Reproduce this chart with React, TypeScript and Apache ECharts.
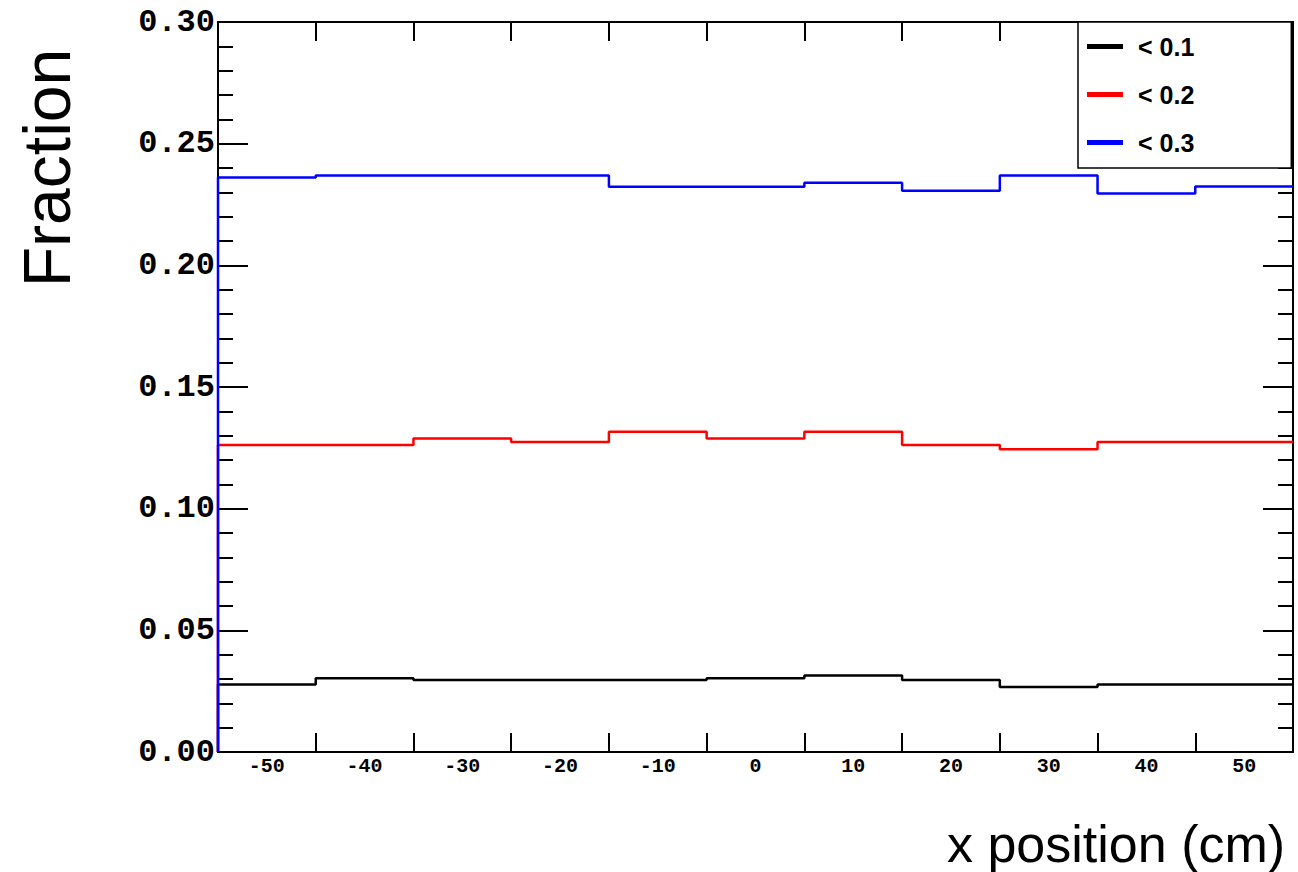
import React, { useEffect, useRef } from "react";
import * as echarts from "echarts";

const binCenters = [-50, -40, -30, -20, -10, 0, 10, 20, 30, 40, 50];
const binEdges = [-45, -35, -25, -15, -5, 5, 15, 25, 35, 45];
const binWidth = 10;
const xMin = -55;
const xMax = 55;
const yTicks = [0, 0.05, 0.1, 0.15, 0.2, 0.25, 0.3];

const seriesNames = ["< 0.1", "< 0.2", "< 0.3"];
const seriesColors = ["#000000", "#ff0000", "#0000ff"];
const fracLt01 = [0.0277, 0.0303, 0.0296, 0.0296, 0.0296, 0.0303, 0.0314, 0.0296, 0.0267, 0.0277, 0.0277];
const fracLt02 = [0.1262, 0.1262, 0.1288, 0.1274, 0.1316, 0.1288, 0.1316, 0.1262, 0.1244, 0.1274, 0.1274];
const fracLt03 = [0.2361, 0.2369, 0.2369, 0.2369, 0.2323, 0.2323, 0.2339, 0.2306, 0.2369, 0.2295, 0.2324];
const seriesValues = [fracLt01, fracLt02, fracLt03];

const xTitle = "x position (cm)";
const yTitle = "Fraction";

function stepPoints(values: number[]) {
  const pts: number[][] = [[binCenters[0] - binWidth / 2, 0]];
  values.forEach((v, i) => {
    pts.push([binCenters[i] - binWidth / 2, v]);
    pts.push([binCenters[i] + binWidth / 2, v]);
  });
  return pts;
}

export default function App() {
  const ref = useRef<HTMLDivElement>(null);
  useEffect(() => {
    if (!ref.current) return;
    const chart = echarts.init(ref.current, null, { renderer: "svg" });
    const monoBold = { fontFamily: "Liberation Mono", fontWeight: "bold" as const, color: "#000" };
    const axisLine = { show: true, onZero: false, lineStyle: { color: "#000", width: 2 } };
    const xCommon = {
      type: "value" as const,
      min: xMin,
      max: xMax,
      splitLine: { show: false },
      axisLine,
      axisTick: {
        show: true,
        inside: true,
        length: 19,
        customValues: binEdges,
        lineStyle: { color: "#000", width: 2 },
      },
    };
    const yCommon = {
      type: "value" as const,
      min: 0,
      max: 0.3,
      interval: 0.05,
      splitLine: { show: false },
      axisLine,
      axisTick: { show: true, inside: true, length: 30, lineStyle: { color: "#000", width: 2 } },
      minorTick: { show: true, splitNumber: 5, length: 15, lineStyle: { color: "#000", width: 2 } },
    };
    chart.setOption({
      animation: false,
      backgroundColor: "#fff",
      grid: { left: 218, top: 22, right: 5, bottom: 120, show: true, borderColor: "#000", borderWidth: 2 },
      xAxis: [
        {
          ...xCommon,
          position: "bottom",
          axisLabel: {
            show: true,
            customValues: binCenters,
            margin: 4,
            fontSize: 20,
            ...monoBold,
          },
        },
        { ...xCommon, position: "top", axisLabel: { show: false } },
      ],
      yAxis: [
        {
          ...yCommon,
          position: "left",
          axisLabel: {
            show: true,
            margin: 3,
            fontSize: 32,
            ...monoBold,
            customValues: yTicks,
            formatter: (v: number) => v.toFixed(2),
          },
        },
        { ...yCommon, position: "right", axisLabel: { show: false } },
      ],
      legend: {
        data: seriesNames,
        orient: "vertical",
        left: 1078,
        top: 22,
        icon: "rect",
        itemWidth: 36,
        itemHeight: 5,
        itemGap: 23,
        padding: [12, 97, 13, 9],
        borderColor: "#000",
        borderWidth: 1.5,
        backgroundColor: "#fff",
        textStyle: {
          fontFamily: "Liberation Sans",
          fontWeight: "bold",
          fontSize: 25,
          color: "#000",
          padding: [0, 0, 0, 10],
        },
      },
      graphic: [
        {
          type: "text",
          left: 1288 - 341,
          top: 818,
          style: { text: xTitle, font: "52px 'Liberation Sans'", fill: "#000" },
        },
        {
          type: "text",
          x: 47,
          y: 168,
          rotation: Math.PI / 2,
          style: {
            text: yTitle,
            font: "66px 'Liberation Sans'",
            fill: "#000",
            align: "center",
            verticalAlign: "middle",
          },
        },
      ],
      series: seriesNames.map((name, i) => ({
        name,
        type: "line",
        xAxisIndex: 0,
        yAxisIndex: 0,
        data: stepPoints(seriesValues[i]),
        symbol: "none",
        lineStyle: { color: seriesColors[i], width: 2.5 },
        itemStyle: { color: seriesColors[i] },
        z: 3,
      })),
    });
    return () => chart.dispose();
  }, []);
  return (
    <div
      ref={ref}
      style={{ position: "fixed", left: 0, top: 0, width: 1298, height: 872, background: "#fff" }}
    />
  );
}
